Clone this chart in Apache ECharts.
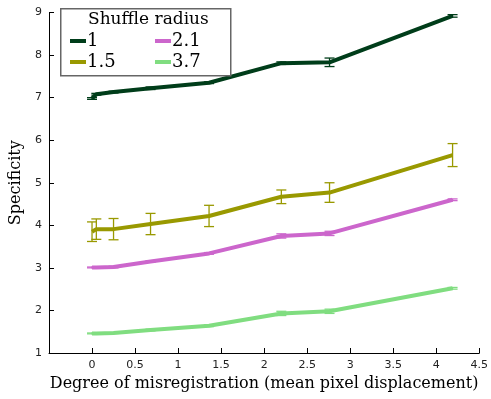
<!DOCTYPE html>
<html>
<head>
<meta charset="utf-8">
<script src="https://cdn.jsdelivr.net/npm/echarts@6/dist/echarts.min.js"></script>
<style>
    html, body { margin: 0; padding: 0; background: #fff; }
    #main { width: 491px; height: 399px; }
</style>
</head>
<body>
<div id="main"></div>
<script>
var myChart = echarts.init(document.getElementById('main'));

// 横轴：平均像素位移
var displacement = [0, 0.05, 0.25, 0.68, 1.36, 2.2, 2.76, 4.19];
var radiusNames = ['1', '1.5', '2.1', '3.7'];
var radiusColors = ['#003d1a', '#999900', '#cc66cc', '#80dd80'];

// 各半径的 Specificity 均值
var spec1 = [6.98, 7.08, 7.13, 7.22, 7.35, 7.81, 7.83, 8.92];
var spec15 = [3.85, 3.91, 3.91, 4.03, 4.22, 4.67, 4.77, 5.65];
var spec21 = [3.01, 3.01, 3.02, 3.15, 3.34, 3.75, 3.81, 4.6];
var spec37 = [1.46, 1.46, 1.47, 1.54, 1.64, 1.93, 1.98, 2.52];

// 误差
var err1 = [0.02, 0.02, 0.02, 0.03, 0.02, 0.03, 0.1, 0.03];
var err15 = [0.23, 0.24, 0.25, 0.25, 0.25, 0.16, 0.23, 0.27];
var err21 = [0.01, 0.01, 0.02, 0.02, 0.02, 0.05, 0.05, 0.02];
var err37 = [0.01, 0.01, 0.01, 0.02, 0.02, 0.05, 0.05, 0.02];

var specs = [spec1, spec15, spec21, spec37];
var errs = [err1, err15, err21, err37];

var serifFont = 'DejaVu Serif';

function lineData(vals) {
    return displacement.map(function (x, i) { return [x, vals[i]]; });
}
function barData(vals, e) {
    return displacement.map(function (x, i) { return [x, vals[i] - e[i], vals[i] + e[i]]; });
}
function renderErr(params, api) {
    var lo = api.coord([api.value(0), api.value(1)]);
    var hi = api.coord([api.value(0), api.value(2)]);
    var w = 5;
    var st = { stroke: api.visual('color'), lineWidth: 1.3 };
    return {
        type: 'group',
        children: [
            { type: 'line', shape: { x1: lo[0], y1: lo[1], x2: hi[0], y2: hi[1] }, style: st },
            { type: 'line', shape: { x1: lo[0] - w, y1: lo[1], x2: lo[0] + w, y2: lo[1] }, style: st },
            { type: 'line', shape: { x1: hi[0] - w, y1: hi[1], x2: hi[0] + w, y2: hi[1] }, style: st }
        ]
    };
}

var series = [];
radiusNames.forEach(function (name, k) {
    series.push({
        name: name,
        type: 'line',
        data: lineData(specs[k]),
        showSymbol: false,
        color: radiusColors[k],
        lineStyle: { width: 4, color: radiusColors[k] },
        animation: false
    });
    series.push({
        name: name,
        type: 'custom',
        data: barData(specs[k], errs[k]),
        renderItem: renderErr,
        itemStyle: { color: radiusColors[k] },
        encode: { x: 0, y: [1, 2] },
        animation: false
    });
});

var legendText = {
    fontFamily: serifFont,
    fontSize: 18,
    color: '#000',
    padding: [0, 0, 0, -4],
    rich: { s: { fontFamily: serifFont, fontSize: 18, color: '#000' } }
};
function legendFmt(name) { return '{s|' + name + '}'; }

option = {
    animation: false,
    grid: {
        left: 49,
        right: 9,
        top: 12.5,
        bottom: 46
    },
    xAxis: {
        type: 'value',
        min: -0.5,
        max: 4.5,
        interval: 0.5,
        name: 'Degree of misregistration (mean pixel displacement)',
        nameLocation: 'middle',
        nameGap: 21,
        nameTextStyle: { fontFamily: serifFont, fontSize: 16, color: '#000' },
        axisLine: { onZero: false, lineStyle: { color: '#000', width: 1 } },
        axisTick: { inside: true, length: 5, lineStyle: { color: '#000' } },
        axisLabel: {
            color: '#222',
            fontFamily: 'DejaVu Sans',
            fontSize: 11,
            margin: 7,
            formatter: function (v) { return v < 0 ? '' : String(v); }
        },
        splitLine: { show: false }
    },
    yAxis: {
        type: 'value',
        min: 1,
        max: 9,
        interval: 1,
        name: 'Specificity',
        nameLocation: 'middle',
        nameGap: 22,
        nameTextStyle: { fontFamily: serifFont, fontSize: 16, color: '#000' },
        axisLine: { show: true, onZero: false, lineStyle: { color: '#000', width: 1 } },
        axisTick: { show: true, inside: true, length: 5, lineStyle: { color: '#000' } },
        axisLabel: { color: '#222', fontFamily: 'DejaVu Sans', fontSize: 11, margin: 7 },
        splitLine: { show: false }
    },
    legend: [{
        data: ['1', '1.5'],
        orient: 'vertical',
        left: 70,
        top: 32,
        padding: 0,
        itemGap: 3,
        itemWidth: 16,
        itemHeight: 4,
        icon: 'rect',
        z: 20,
        formatter: legendFmt,
        textStyle: legendText
    }, {
        data: ['2.1', '3.7'],
        orient: 'vertical',
        left: 155,
        top: 32,
        padding: 0,
        itemGap: 3,
        itemWidth: 16,
        itemHeight: 4,
        icon: 'rect',
        z: 20,
        formatter: legendFmt,
        textStyle: legendText
    }],
    graphic: [{
        type: 'rect',
        left: 60,
        top: 8,
        shape: { width: 170, height: 67 },
        style: { fill: '#fff', stroke: '#666', lineWidth: 1.5 },
        z: 5
    }, {
        type: 'text',
        left: 88,
        top: 11,
        style: { text: 'Shuffle radius', font: '17px "DejaVu Serif"', fill: '#000' },
        z: 6
    }],
    series: series
};

myChart.setOption(option);
</script>
</body>
</html>
